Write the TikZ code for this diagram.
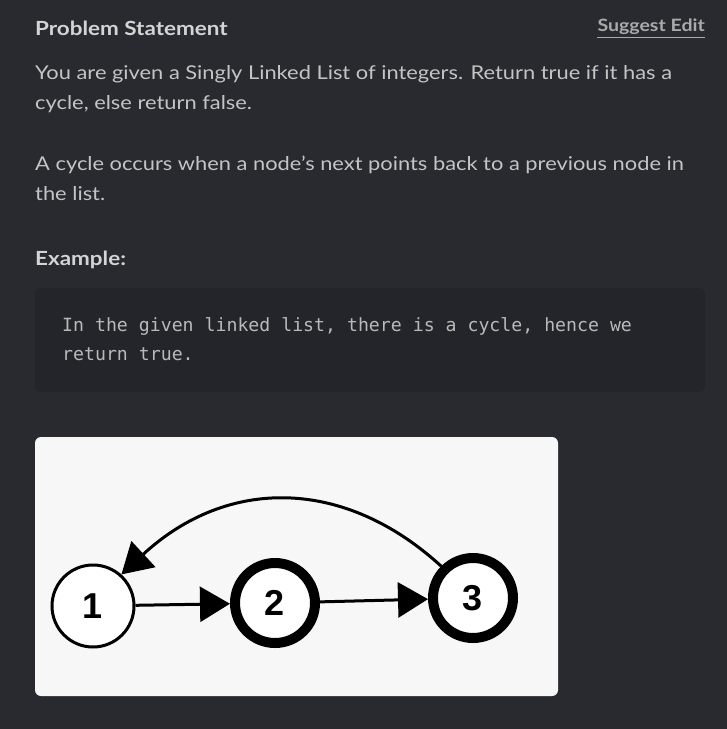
\documentclass[tikz,border=0pt]{standalone}
\usepackage{fontspec}
\setmainfont{Lato}[FakeStretch=1.15]
\setsansfont{Liberation Sans}
\setmonofont{DejaVu Sans Mono}
\usetikzlibrary{arrows.meta}
\definecolor{pagebg}{RGB}{40,42,48}
\definecolor{codebg}{RGB}{35,37,42}
\definecolor{bodytxt}{RGB}{196,196,196}
\definecolor{headtxt}{RGB}{212,212,212}
\definecolor{linktxt}{RGB}{170,170,170}
\definecolor{codetxt}{RGB}{185,185,185}
\definecolor{figbg}{RGB}{247,247,247}
\tikzset{
  heading/.style={anchor=base west,inner sep=0pt,text=headtxt,font=\fontsize{19.5}{23}\selectfont\bfseries},
  bodyline/.style={anchor=base west,inner sep=0pt,text=bodytxt,font=\fontsize{19}{23}\selectfont},
  codeline/.style={anchor=base west,inner sep=0pt,text=codetxt,font=\fontsize{18.2}{22}\selectfont\ttfamily},
  thinnode/.style={circle,draw=black,fill=white,line width=3pt,minimum size=82pt,inner sep=0pt,font=\fontsize{36}{40}\selectfont\sffamily\bfseries},
  thicknode/.style={circle,draw=black,fill=white,line width=10pt,minimum size=80pt,inner sep=0pt,font=\fontsize{36}{40}\selectfont\sffamily\bfseries},
  link/.style={draw=black,line width=3pt,-{Triangle[length=30pt,width=35pt]}}
}
\begin{document}
\begin{tikzpicture}[x=1pt,y=-1pt]
\useasboundingbox (0,0) rectangle (727,729);
\fill[pagebg] (0,0) rectangle (727,729);
% texts
\node[heading] (title) at (35,35) {Problem Statement};
\node[anchor=base east,inner sep=0pt,text=linktxt,font=\fontsize{17}{20}\selectfont\bfseries] (edit) at (705,31) {Suggest Edit};
\draw[linktxt,line width=1pt] (edit.south west) ++(0,3) coordinate (ul1) -- (edit.south east |- ul1) coordinate (ul2);
\node[bodyline] (l1) at (35,79) {You are given a Singly Linked List of integers. Return true if it has a};
\node[bodyline] (l2) at (35,109) {cycle, else return false.};
\node[bodyline] (l3) at (35,170) {A cycle occurs when a node's next points back to a previous node in};
\node[bodyline] (l4) at (35,200) {the list.};
\node[heading] (ex) at (35,265) {Example:};
% code box
\fill[codebg,rounded corners=6pt] (35,288) rectangle (705,392);
\node[codeline] (c1) at (62,331) {In the given linked list, there is a cycle, hence we};
\node[codeline] (c2) at (62,360) {return true.};
% figure
\fill[figbg,rounded corners=6pt] (35,437) rectangle (558,696);
\node[thinnode] (n1) at (93,606) {1};
\node[thicknode] (n2) at (275,603) {2};
\node[thicknode] (n3) at (473,598) {3};
\draw[link] (n1) -- (n2);
\draw[link] (n2) -- (n3);
\draw[link] (n3.135) .. controls (345,478) and (228,476) .. (n1.48);
\end{tikzpicture}
\end{document}
